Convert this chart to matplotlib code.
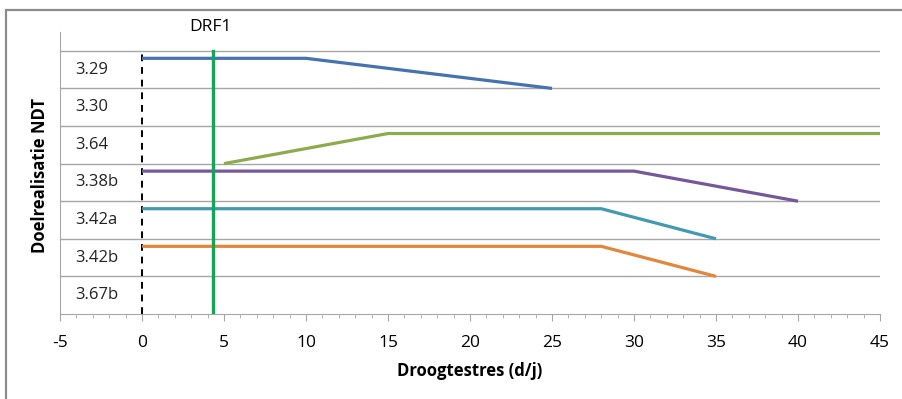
import matplotlib
matplotlib.use("Agg")
import matplotlib.pyplot as plt
from matplotlib.patches import Rectangle
from matplotlib.ticker import MultipleLocator

plt.rcParams['font.family'] = ['Open Sans', 'DejaVu Sans']
plt.rcParams['axes.unicode_minus'] = False

# Band labels, bottom to top
categories = ["3.67b", "3.42b", "3.42a", "3.38b", "3.64", "3.30", "3.29"]

# Response curves (x = droogtestres d/j, y = band position)
blue_x = [0, 10, 25]
blue_y = [6.8, 6.8, 6.0]
green_x = [5, 15, 45]
green_y = [4.0, 4.8, 4.8]
purple_x = [0, 30, 40]
purple_y = [3.8, 3.8, 3.0]
teal_x = [0, 28, 35]
teal_y = [2.8, 2.8, 2.0]
orange_x = [0, 28, 35]
orange_y = [1.8, 1.8, 1.0]

drf1 = 4.35

fig = plt.figure(figsize=(9.03, 3.99), dpi=100)
ax = fig.add_axes([60/903, 85/399, 820/903, 282/399])

ax.set_xlim(-5, 45)
ax.set_ylim(0, 7.5)

grid_c = "#a6a6a6"
for y in range(1, len(categories) + 1):
    ax.plot([-5, 45], [y, y], color=grid_c, lw=1.0, zorder=1)

ax.plot([0, 0], [0, 7], color="black", lw=1.4, ls=(0, (3.5, 3)), zorder=2)

series = [
    (blue_x, blue_y, "#4672b0"),
    (green_x, green_y, "#8cac4c"),
    (purple_x, purple_y, "#76589a"),
    (teal_x, teal_y, "#4299b2"),
    (orange_x, orange_y, "#e4853c"),
]
for xs, ys, c in series:
    ax.plot(xs, ys, color=c, lw=2.3, solid_capstyle="butt", zorder=3)

ax.plot([drf1, drf1], [0, 7], color="#00b050", lw=2.4, zorder=4)
ax.text(drf1 - 0.2, 7.63, "DRF1", ha="center", va="center", fontsize=12.5, clip_on=False)

for i, lab in enumerate(categories):
    ax.text(-4.1, i + 0.5, lab, ha="left", va="center", fontsize=12, color="#222222")

for s in ["top", "right"]:
    ax.spines[s].set_visible(False)
ax.spines["left"].set_color(grid_c)
ax.spines["bottom"].set_color(grid_c)
ax.set_yticks([])
ax.xaxis.set_major_locator(MultipleLocator(5))
ax.xaxis.set_minor_locator(MultipleLocator(1))
ax.tick_params(axis="x", which="major", length=5, color=grid_c, pad=10, labelsize=12.5)
ax.tick_params(axis="x", which="minor", length=3, color=grid_c)

ax.set_xlabel("Droogtestres (d/j)", fontsize=12, fontweight="bold", labelpad=8)
fig.text(40/903, 1 - 175/399, "Doelrealisatie NDT", rotation=90, ha="center", va="center",
         fontsize=12, fontweight="bold")

fig.patches.append(Rectangle((5.5/903, -0.1), 1.2, 1 - 9.5/399 + 0.1, transform=fig.transFigure,
                             fill=False, edgecolor="#8c8c8c", lw=1.6))

fig.savefig("out.png", dpi=100)
